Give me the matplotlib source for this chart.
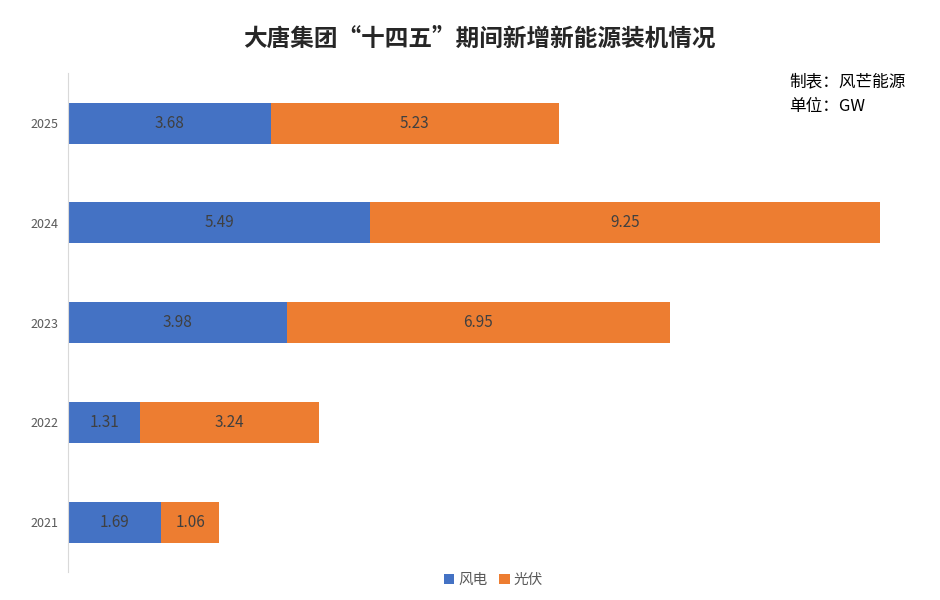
import matplotlib.pyplot as plt

plt.rcParams['font.family'] = ['Noto Sans CJK SC', 'DejaVu Sans']

years = ['2021', '2022', '2023', '2024', '2025']
wind = [1.69, 1.31, 3.98, 5.49, 3.68]
solar = [1.06, 3.24, 6.95, 9.25, 5.23]

fig = plt.figure(figsize=(9.4, 6), dpi=100)
ax = fig.add_axes([0.0723, 0.0467, 0.8787, 0.8313])

b1 = ax.barh(years, wind, height=0.41, color='#4472C4', label='风电')
b2 = ax.barh(years, solar, left=wind, height=0.41, color='#ED7D31', label='光伏')
ax.bar_label(b1, labels=[f'{v:.2f}' for v in wind], label_type='center', color='#404040', fontsize=11)
ax.bar_label(b2, labels=[f'{v:.2f}' for v in solar], label_type='center', color='#404040', fontsize=11)

ax.set_xlim(0, 15)
ax.set_ylim(-0.5, 4.5)
ax.set_xticks([])
for s in ['top', 'right', 'bottom']:
    ax.spines[s].set_visible(False)
ax.spines['left'].set_color('#D9D9D9')
ax.tick_params(axis='y', length=0, labelsize=9, labelcolor='#595959', pad=7)

fig.text(0.51, 0.935, '大唐集团“十四五”期间新增新能源装机情况', ha='center', va='center',
         fontsize=17, fontweight='bold', color='#262626')
fig.text(0.84, 0.863, '制表：风芒能源', ha='left', va='center', fontsize=12)
fig.text(0.84, 0.823, '单位：GW', ha='left', va='center', fontsize=12)

fig.legend(handles=[b1, b2], loc='center', bbox_to_anchor=(0.525, 0.033), ncol=2, frameon=False,
           fontsize=10.5, handlelength=0.7, handleheight=0.7, handletextpad=0.3, columnspacing=0.8,
           labelcolor='#595959')

fig.savefig('out.png', dpi=100)
